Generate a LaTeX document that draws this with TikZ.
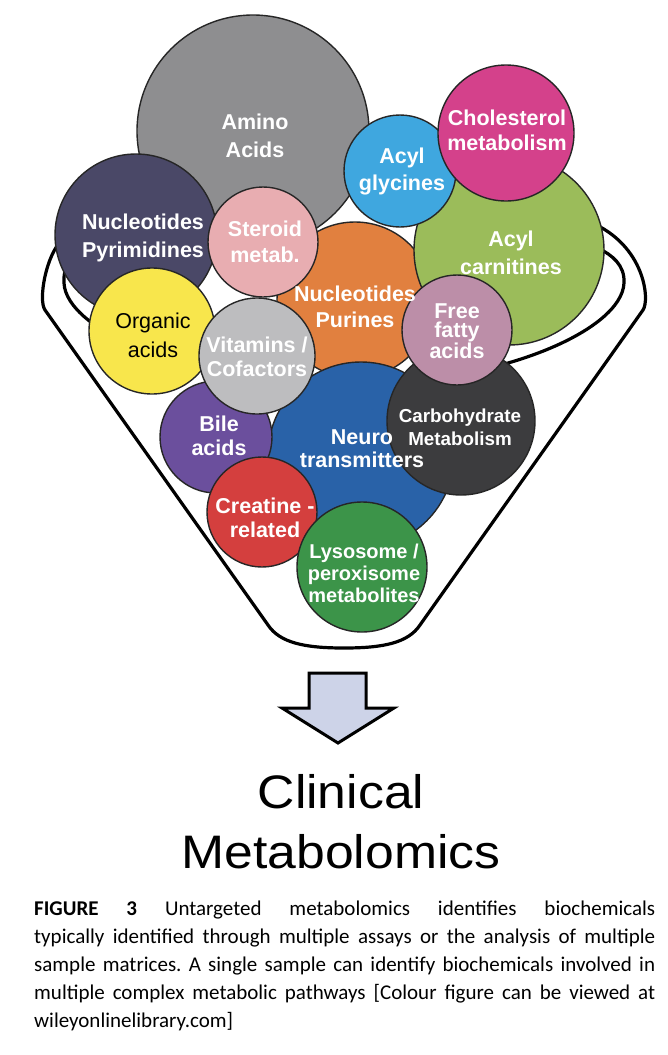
\documentclass[tikz,border=0pt]{standalone}
\usepackage{fontspec}
\newfontfamily\lblfont{Liberation Sans}
\newfontfamily\titlefont[FakeStretch=1.1]{Liberation Sans}
\newfontfamily\capfont{Carlito}
\definecolor{aminogray}{HTML}{8E8E90}
\definecolor{glyblue}{HTML}{3FA7DF}
\definecolor{cholpink}{HTML}{D4418B}
\definecolor{carngreen}{HTML}{9BBC5A}
\definecolor{pyrnavy}{HTML}{4A4867}
\definecolor{steroidpink}{HTML}{E8ADB1}
\definecolor{purorange}{HTML}{E1803F}
\definecolor{orgyellow}{HTML}{F8E64C}
\definecolor{vitgray}{HTML}{BDBDBF}
\definecolor{fattymauve}{HTML}{BC8EA8}
\definecolor{carbodark}{HTML}{3C3C3E}
\definecolor{neuroblue}{HTML}{2962A8}
\definecolor{bilepurple}{HTML}{6B4F9D}
\definecolor{creatred}{HTML}{D43F3E}
\definecolor{lysogreen}{HTML}{3C9449}
\definecolor{arrowfill}{HTML}{CDD3E8}
\begin{document}
\begin{tikzpicture}[x=1pt, y=-1pt, line join=round, line cap=round,
	blob/.style={circle, draw=black!85, line width=1.4pt, inner sep=0pt},
	lbl/.style={text=white, align=center, inner sep=0pt, font=\lblfont\bfseries\fontsize{21.5}{#1}\selectfont},
	lbl/.default=26]
	\useasboundingbox (0,0) rectangle (668,1055);
	% funnel: outer wall and inner rim
	\draw[line width=3.2pt] (62,240) .. controls (46,255) and (38,300) .. (45,310) -- (268,625) .. controls (280,643) and (305,648) .. (344,648) .. controls (383,648) and (408,643) .. (420,625) -- (643,310) .. controls (650,300) and (645,245) .. (590,222);
	\draw[line width=3.2pt] (82,248) .. controls (72,255) and (63,265) .. (64,283) .. controls (66,330) and (188,385) .. (344,385) .. controls (500,385) and (622,330) .. (624,283) .. controls (625,265) and (612,255) .. (598,248);
	% circles, back to front
	\node[blob, fill=aminogray, minimum size=232pt] (amino) at (253,131) {};
	\node[blob, fill=pyrnavy, minimum size=162pt] (pyr) at (136,235) {};
	\node[blob, fill=purorange, minimum size=156pt] (pur) at (355,300) {};
	\node[blob, fill=carngreen, minimum size=190pt] (carn) at (509,250) {};
	\node[blob, fill=glyblue, minimum size=112pt] (gly) at (400,171) {};
	\node[blob, fill=cholpink, minimum size=136pt] (chol) at (506,133) {};
	\node[blob, fill=steroidpink, minimum size=110pt] (steroid) at (263,242) {};
	\node[blob, fill=orgyellow, minimum size=126pt] (organic) at (152,331) {};
	\node[blob, fill=neuroblue, minimum size=186pt] (neuro) at (361,455) {};
	\node[blob, fill=carbodark, minimum size=148pt] (carbo) at (461,421) {};
	\node[blob, fill=fattymauve, minimum size=110pt] (fatty) at (457,330) {};
	\node[blob, fill=bilepurple, minimum size=112pt] (bile) at (216,437) {};
	\node[blob, fill=vitgray, minimum size=116pt] (vit) at (257,356) {};
	\node[blob, fill=creatred, minimum size=110pt] (creat) at (262,512) {};
	\node[blob, fill=lysogreen, minimum size=130pt] (lyso) at (362,567) {};
	% labels
	\node[lbl=28] (aminotxt) at (255,136) {Amino\\Acids};
	\node[lbl=27] (glytxt) at (402,171) {Acyl\\glycines};
	\node[lbl=25] (choltxt) at (507,130) {Cholesterol\\metabolism};
	\node[lbl=28] (pyrtxt) at (143,238) {Nucleotides\\Pyrimidines};
	\node[lbl] (steroidtxt) at (265,242) {Steroid\\metab.};
	\node[lbl=28] (carntxt) at (511,253) {Acyl\\carnitines};
	\node[lbl] (purtxt) at (355,307) {Nucleotides\\Purines};
	\node[lbl=29, text=black, font=\lblfont\fontsize{21.5}{29}\selectfont] (organictxt) at (153,335) {Organic\\acids};
	\node[lbl=19.5] (fattytxt) at (457,331) {Free\\fatty\\acids};
	\node[lbl=24] (vittxt) at (257,357) {Vitamins /\\Cofactors};
	\node[lbl=24] (biletxt) at (219,436) {Bile\\acids};
	\node[lbl=23] (neurotxt) at (362,449) {Neuro\\transmitters};
	\node[lbl, font=\lblfont\bfseries\fontsize{18.8}{23}\selectfont] (carbotxt) at (460,427) {Carbohydrate\\Metabolism};
	\node[lbl=24] (creattxt) at (265,518) {Creatine -\\related};
	\node[lbl, font=\lblfont\bfseries\fontsize{20}{22}\selectfont] (lysotxt) at (364,573) {Lysosome /\\peroxisome\\metabolites};
	% block arrow
	\draw[line width=3pt, line join=miter, fill=arrowfill] (309,673) -- (366,673) -- (366,708) -- (394,708) -- (338,743) -- (282,708) -- (309,708) -- cycle;
	\node[anchor=base, inner sep=0pt, font=\titlefont\fontsize{47}{56}\selectfont] (clin) at (341,808) {Clinical};
	\node[anchor=base, inner sep=0pt, font=\titlefont\fontsize{47}{56}\selectfont] (metab) at (341,868) {Metabolomics};
	% caption
	\node[anchor=north west, inner sep=0pt, text width=621pt, align=justify, font=\capfont\fontsize{21}{28}\selectfont] (caption) at (34,901) {\frenchspacing\tolerance=10000\textbf{FIGURE 3} Untargeted metabolomics identifies biochemicals\linebreak typically identified through multiple assays or the analysis of multiple\linebreak sample matrices. A single sample can identify biochemicals involved in\linebreak multiple complex metabolic pathways [Colour figure can be viewed at\linebreak wileyonlinelibrary.com]};
\end{tikzpicture}
\end{document}
